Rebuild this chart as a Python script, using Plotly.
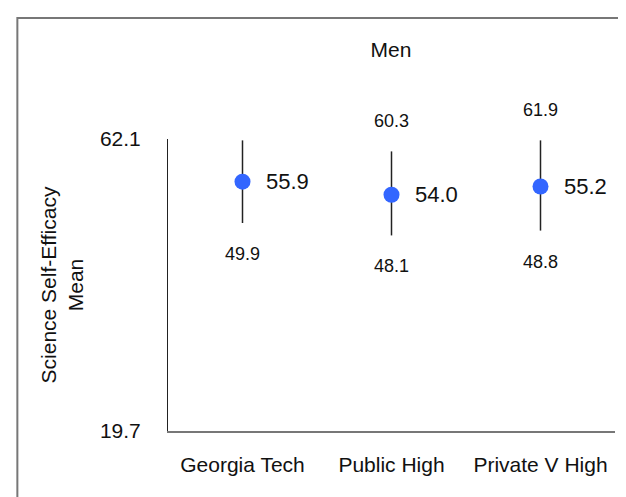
import plotly.graph_objects as go

categories = ["Georgia Tech", "Public High", "Private V High"]
means = [55.9, 54.0, 55.2]
upper = [61.9, 60.3, 61.9]
lower = [49.9, 48.1, 48.8]
show_upper_label = [False, True, True]
y_ticks = [19.7, 62.1]
y_tick_labels = ["19.7", "62.1"]
title_text = "Men"
y_title = "Science Self-Efficacy<br>Mean"

FONT = "Liberation Sans, Arial, sans-serif"
TXT = "#111111"

fig = go.Figure()
fig.add_trace(go.Scatter(
    x=categories, y=means, mode="markers",
    marker=dict(color="#3366ff", size=16),
    error_y=dict(type="data", symmetric=False,
                 array=[u - m for u, m in zip(upper, means)],
                 arrayminus=[m - l for m, l in zip(means, lower)],
                 width=0, thickness=1.5, color="#222222"),
    showlegend=False, cliponaxis=False,
))

for i, c in enumerate(categories):
    fig.add_annotation(x=c, y=means[i], text=f"{means[i]:.1f}", showarrow=False,
                       xanchor="left", xshift=21, font=dict(size=22, color=TXT, family=FONT))
    fig.add_annotation(x=c, y=lower[i], text=f"{lower[i]:.1f}", showarrow=False,
                       yshift=-31, font=dict(size=18, color=TXT, family=FONT))
    if show_upper_label[i]:
        fig.add_annotation(x=c, y=upper[i], text=f"{upper[i]:.1f}", showarrow=False,
                           yshift=30, font=dict(size=18, color=TXT, family=FONT))

# outer frame (left and top edges visible)
fig.add_shape(type="rect", xref="paper", yref="paper",
              x0=-0.337, y0=-0.5, x1=1.2, y1=1.414,
              line=dict(color="#777777", width=2), fillcolor="rgba(0,0,0,0)", layer="below")

fig.update_layout(
    width=626, height=497,
    margin=dict(l=160, r=19, t=131, b=74),
    paper_bgcolor="white", plot_bgcolor="white",
    font=dict(family=FONT, color=TXT, size=21),
    title=dict(text=title_text, x=383 / 626, xanchor="center", y=1 - 42 / 497, yanchor="middle",
               font=dict(size=21, color=TXT, family=FONT)),
)
fig.update_xaxes(type="category", range=[-0.5, 2.5], showgrid=False, zeroline=False,
                 showline=True, linecolor="#777777", linewidth=2, ticks="", tickangle=0,
                 automargin=False,
                 tickfont=dict(size=21, color=TXT), ticklabelstandoff=14)
fig.update_yaxes(range=[19.7, 62.1], tickvals=y_ticks, ticktext=y_tick_labels,
                 showgrid=False, zeroline=False, showline=True, linecolor="#222222",
                 linewidth=1, ticks="", tickfont=dict(size=21, color=TXT),
                 ticklabelstandoff=22, automargin=False,
                 title=dict(text=y_title, font=dict(size=21, color=TXT), standoff=10))

fig.write_html("out.html")
